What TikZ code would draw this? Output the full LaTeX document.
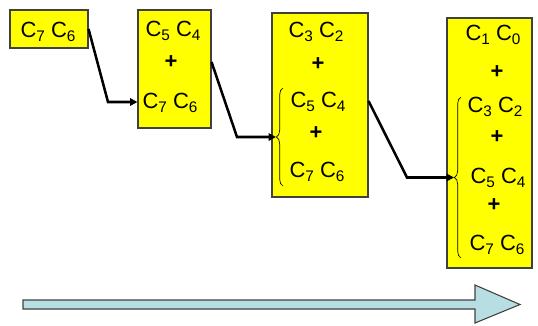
\documentclass[tikz,border=0pt]{standalone}
\usepackage{fontspec}
\setmainfont{Liberation Sans}
\usetikzlibrary{arrows.meta, decorations.pathreplacing}
\definecolor{BoxYellow}{HTML}{FFFF00}
\definecolor{BoxEdge}{HTML}{404040}
\definecolor{PaleBlue}{HTML}{B7DEE2}
\newcommand{\csub}[1]{\raisebox{-0.22em}{\fontsize{11.5}{12}\selectfont #1}}
\newcommand{\cpair}[2]{C\csub{#1} C\csub{#2}}
\tikzset{
  box/.style={draw=BoxEdge, line width=0.8pt, fill=BoxYellow, inner sep=0pt},
  term/.style={font=\fontsize{16.5}{19}\selectfont, inner sep=0pt, anchor=base},
  plus/.style={font=\fontsize{16.5}{19}\selectfont\bfseries, inner sep=0pt},
  link/.style={line width=1.9pt, -{Triangle[length=5.5pt,width=5.5pt]}},
  group/.style={decorate, decoration={brace, amplitude=5pt}, line width=0.5pt},
  timeline/.style={draw=BoxEdge, line width=0.8pt, fill=PaleBlue}
}

\begin{document}
\begin{tikzpicture}[x=0.75pt, y=-0.75pt]
\useasboundingbox (0,0) rectangle (538,325);
% the four stages
\node[box, minimum width=58.5pt, minimum height=28.5pt] (b1) at (49,29) {};
\node[box, minimum width=54.75pt, minimum height=88.5pt] (b2) at (174.5,69) {};
\node[box, minimum width=72pt, minimum height=138pt] (b3) at (320,105) {};
\node[box, minimum width=63.75pt, minimum height=187.5pt] (b4) at (489.5,143) {};
% stage 1
\node[term] (b1a) at (48,37) {\cpair{7}{6}};
% stage 2
\node[term] (b2a) at (173,36) {\cpair{5}{4}};
\node[plus] (b2p) at (171,62) {+};
\node[term] (b2b) at (170,108) {\cpair{7}{6}};
% stage 3
\node[term] (b3a) at (316,37) {\cpair{3}{2}};
\node[plus] (b3p) at (318,64) {+};
\node[term] (b3b) at (318,107) {\cpair{5}{4}};
\node[plus] (b3q) at (316,133) {+};
\node[term] (b3c) at (317,177) {\cpair{7}{6}};
% stage 4
\node[term] (b4a) at (493,40) {\cpair{1}{0}};
\node[plus] (b4p) at (497,72) {+};
\node[term] (b4b) at (495,112) {\cpair{3}{2}};
\node[plus] (b4q) at (497,137) {+};
\node[term] (b4c) at (498,183) {\cpair{5}{4}};
\node[plus] (b4r) at (494,205) {+};
\node[term] (b4d) at (497,250) {\cpair{7}{6}};
% braces around the carried terms
\draw[group] (283,186) -- (283,88);
\draw[group] (461,258) -- (461,97);
\coordinate (t3) at (276,137);
\coordinate (t4) at (454,177.5);
% connectors
\coordinate (k1) at (108,102);
\coordinate (k2) at (237,137);
\coordinate (k3) at (407,177.5);
\draw[link] (b1.east) -- (k1) -- (k1 -| b2.west);
\draw[link] (b2.east |- b2p) -- (k2) -- (t3);
\draw[link] ([yshift=3pt]b3.east) -- (k3) -- (t4);
% time arrow
\draw[timeline] (23,300) -- (475,300) -- (475,285) -- (520,304.5) -- (475,323) -- (475,309) -- (23,309) -- cycle;
\end{tikzpicture}
\end{document}
